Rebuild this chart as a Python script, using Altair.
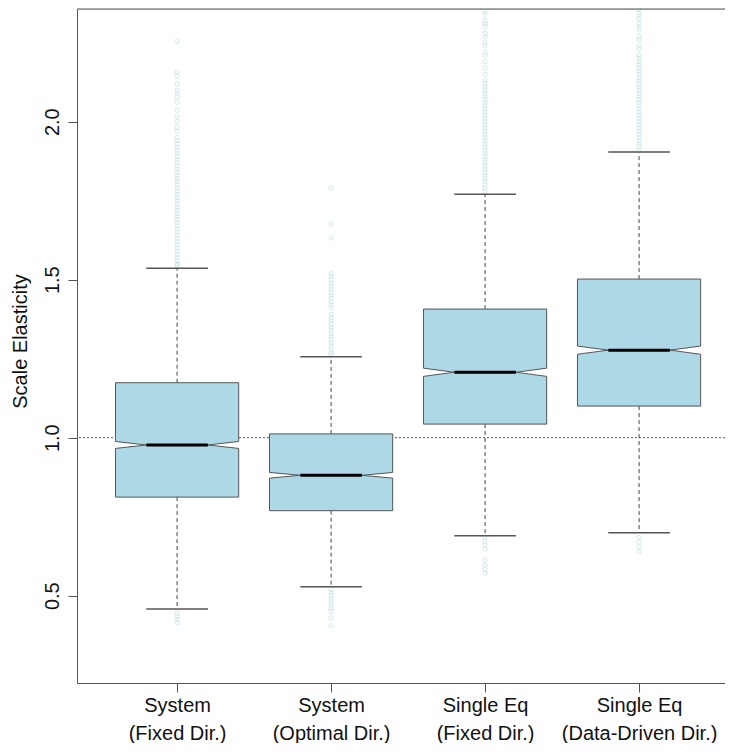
import altair as alt
import pandas as pd

# ---------------- data ----------------
line1 = ["System", "System", "Single Eq", "Single Eq"]
line2 = ["(Fixed Dir.)", "(Optimal Dir.)", "(Fixed Dir.)", "(Data-Driven Dir.)"]
positions = [1, 2, 3, 4]

q1 = [0.812, 0.769, 1.043, 1.100]
median = [0.977, 0.881, 1.207, 1.277]
q3 = [1.174, 1.012, 1.407, 1.502]
whisker_low = [0.458, 0.528, 0.690, 0.699]
whisker_high = [1.536, 1.256, 1.770, 1.904]
notch_half = [0.011, 0.009, 0.013, 0.013]

out_high_1 = [2.255, 2.157, 2.144, 2.12, 2.10, 2.091, 2.078, 2.062, 2.036, 2.015, 2.00, 1.983,
              1.970, 1.95, 1.94, 1.93, 1.92, 1.91, 1.90, 1.89, 1.88, 1.87, 1.86, 1.85, 1.84,
              1.83, 1.82, 1.81, 1.80, 1.79, 1.78, 1.77, 1.76, 1.75, 1.74, 1.73, 1.72, 1.71,
              1.70, 1.69, 1.68, 1.67, 1.66, 1.65, 1.64, 1.63, 1.62, 1.61, 1.60, 1.59, 1.58,
              1.57, 1.56, 1.55, 1.545]
out_low_1 = [0.445, 0.435, 0.425, 0.415]
out_high_2 = [1.79, 1.676, 1.632, 1.52, 1.51, 1.50, 1.49, 1.48, 1.47, 1.46, 1.45, 1.44, 1.43,
              1.42, 1.41, 1.39, 1.38, 1.37, 1.36, 1.35, 1.34, 1.33, 1.32, 1.31, 1.30, 1.29,
              1.28, 1.27, 1.265]
out_low_2 = [0.52, 0.51, 0.50, 0.49, 0.48, 0.47, 0.46, 0.45, 0.43, 0.405]
out_high_3 = [2.35, 2.34, 2.32, 2.31, 2.30, 2.28, 2.27, 2.25, 2.24, 2.22, 2.21, 2.19, 2.17,
              2.15, 2.13, 2.12, 2.11, 2.10, 2.09, 2.08, 2.07, 2.06, 2.05, 2.04, 2.03, 2.02,
              2.01, 2.00, 1.99, 1.98, 1.97, 1.96, 1.95, 1.94, 1.93, 1.92, 1.91, 1.90, 1.89,
              1.88, 1.87, 1.86, 1.85, 1.84, 1.83, 1.82, 1.81, 1.80, 1.79, 1.78]
out_low_3 = [0.683, 0.672, 0.66, 0.648, 0.613, 0.597, 0.583, 0.572]
out_high_4 = [2.355, 2.345, 2.335, 2.325, 2.31, 2.30, 2.29, 2.27, 2.26, 2.24, 2.23, 2.21,
              2.20, 2.19, 2.18, 2.17, 2.16, 2.15, 2.14, 2.13, 2.12, 2.11, 2.10, 2.09, 2.08,
              2.07, 2.06, 2.05, 2.04, 2.03, 2.02, 2.01, 2.00, 1.99, 1.98, 1.97, 1.96, 1.95,
              1.94, 1.93, 1.92, 1.91]
out_low_4 = [0.685, 0.67, 0.655, 0.64]

reference_line = [1.0]
y_ticks = [0.5, 1.0, 1.5, 2.0]

outliers = [out_high_1 + out_low_1, out_high_2 + out_low_2,
            out_high_3 + out_low_3, out_high_4 + out_low_4]

# ---------------- tables built from the lists ----------------
BOX_HALF = 0.4
NOTCH_IN = 0.2

box_rows, whisk_rows, cap_rows, med_rows, out_rows = [], [], [], [], []
for i, c in enumerate(positions):
    m, n = median[i], notch_half[i]
    for yv, h in [(q1[i], BOX_HALF), (m - n, BOX_HALF), (m, NOTCH_IN),
                  (m + n, BOX_HALF), (q3[i], BOX_HALF)]:
        box_rows.append({"g": "g%d" % i, "y": yv, "xl": c - h, "xr": c + h})
    whisk_rows.append({"x": c, "y": q3[i], "y2": whisker_high[i]})
    whisk_rows.append({"x": c, "y": q1[i], "y2": whisker_low[i]})
    cap_rows.append({"x": c - NOTCH_IN, "x2": c + NOTCH_IN, "y": whisker_high[i]})
    cap_rows.append({"x": c - NOTCH_IN, "x2": c + NOTCH_IN, "y": whisker_low[i]})
    med_rows.append({"x": c - NOTCH_IN, "x2": c + NOTCH_IN, "y": m})
    for v in outliers[i]:
        out_rows.append({"x": c, "y": v})

box_df = pd.DataFrame(box_rows)
whisk_df = pd.DataFrame(whisk_rows)
cap_df = pd.DataFrame(cap_rows)
med_df = pd.DataFrame(med_rows)
out_df = pd.DataFrame(out_rows)
ref_df = pd.DataFrame({"y": reference_line})

# ---------------- scales & axes ----------------
FONT = "Liberation Sans"
AX = "#555555"
PLOT_W = 648
xscale = alt.Scale(domain=[0.35, 4.558], nice=False, zero=False)
yscale = alt.Scale(domain=[0.2237, 2.3566], nice=False, zero=False)

label_arr = "[" + ",".join("['%s','%s']" % (a, b) for a, b in zip(line1, line2)) + "]"
xaxis = alt.Axis(values=positions, labelExpr=label_arr + "[datum.value - 1]",
                 title=None, grid=False, tickSize=9, tickColor=AX, domainColor=AX,
                 labelFont=FONT, labelFontSize=20, labelColor="#111111",
                 labelBaseline="alphabetic", labelAlign="center", labelPadding=19,
                 labelLineHeight=28, labelOverlap=False, labelFlush=False, labelBound=False)
yaxis = alt.Axis(values=y_ticks, format=".1f", title="Scale Elasticity", grid=False,
                 tickSize=9, tickColor=AX, domainColor=AX,
                 labelFont=FONT, labelFontSize=20, labelColor="#111111",
                 labelAngle=270, labelAlign="center", labelBaseline="alphabetic",
                 labelPadding=10, labelOverlap=False, labelFlush=False, labelBound=False,
                 titleFont=FONT, titleFontSize=20, titleFontWeight="normal",
                 titleColor="#111111", titleAngle=270, titleAlign="center",
                 titleBaseline="alphabetic", titleX=-51, titleY=332)

def X(f):
    return alt.X(f, scale=xscale, axis=xaxis)

def Y(f):
    return alt.Y(f, scale=yscale, axis=yaxis)

ref = alt.Chart(ref_df).mark_rule(color="#555555", strokeDash=[2, 2], strokeWidth=1).encode(
    y=Y("y:Q"))

whiskers = alt.Chart(whisk_df).mark_rule(color="#444444", strokeDash=[4, 3], strokeWidth=1).encode(
    x=X("x:Q"), y=Y("y:Q"), y2="y2:Q")

points = alt.Chart(out_df).mark_point(shape="circle", filled=False, size=18,
                                      stroke="#cde8ec", strokeWidth=1, opacity=0.9).encode(
    x=X("x:Q"), y=Y("y:Q"))

boxes = alt.Chart(box_df).mark_area(orient="horizontal", fill="#ADD8E6", fillOpacity=1,
                                    stroke="#555555", strokeWidth=1, interpolate="linear").encode(
    y=alt.Y("y:Q", scale=yscale, axis=yaxis),
    x=alt.X("xl:Q", scale=xscale, axis=xaxis, stack=None),
    x2="xr:Q",
    detail="g:N")

caps = alt.Chart(cap_df).mark_rule(color="#555555", strokeWidth=1.5).encode(
    x=X("x:Q"), x2="x2:Q", y=Y("y:Q"))

medians = alt.Chart(med_df).mark_rule(color="#000000", strokeWidth=3).encode(
    x=X("x:Q"), x2="x2:Q", y=Y("y:Q"))

top_frame = alt.Chart(ref_df).mark_rule(color=AX, strokeWidth=1).encode(
    x=alt.value(0), x2=alt.value(PLOT_W), y=alt.value(0))

chart = alt.layer(ref, whiskers, points, boxes, medians, caps, top_frame).properties(
    width=PLOT_W, height=674,
    autosize=alt.AutoSizeParams(type="none"),
    padding={"left": 69, "top": 1, "right": 0, "bottom": 60},
).configure_view(stroke=None).configure(background="white")

chart.save("out.html", embed_options={"renderer": "svg", "actions": False})
